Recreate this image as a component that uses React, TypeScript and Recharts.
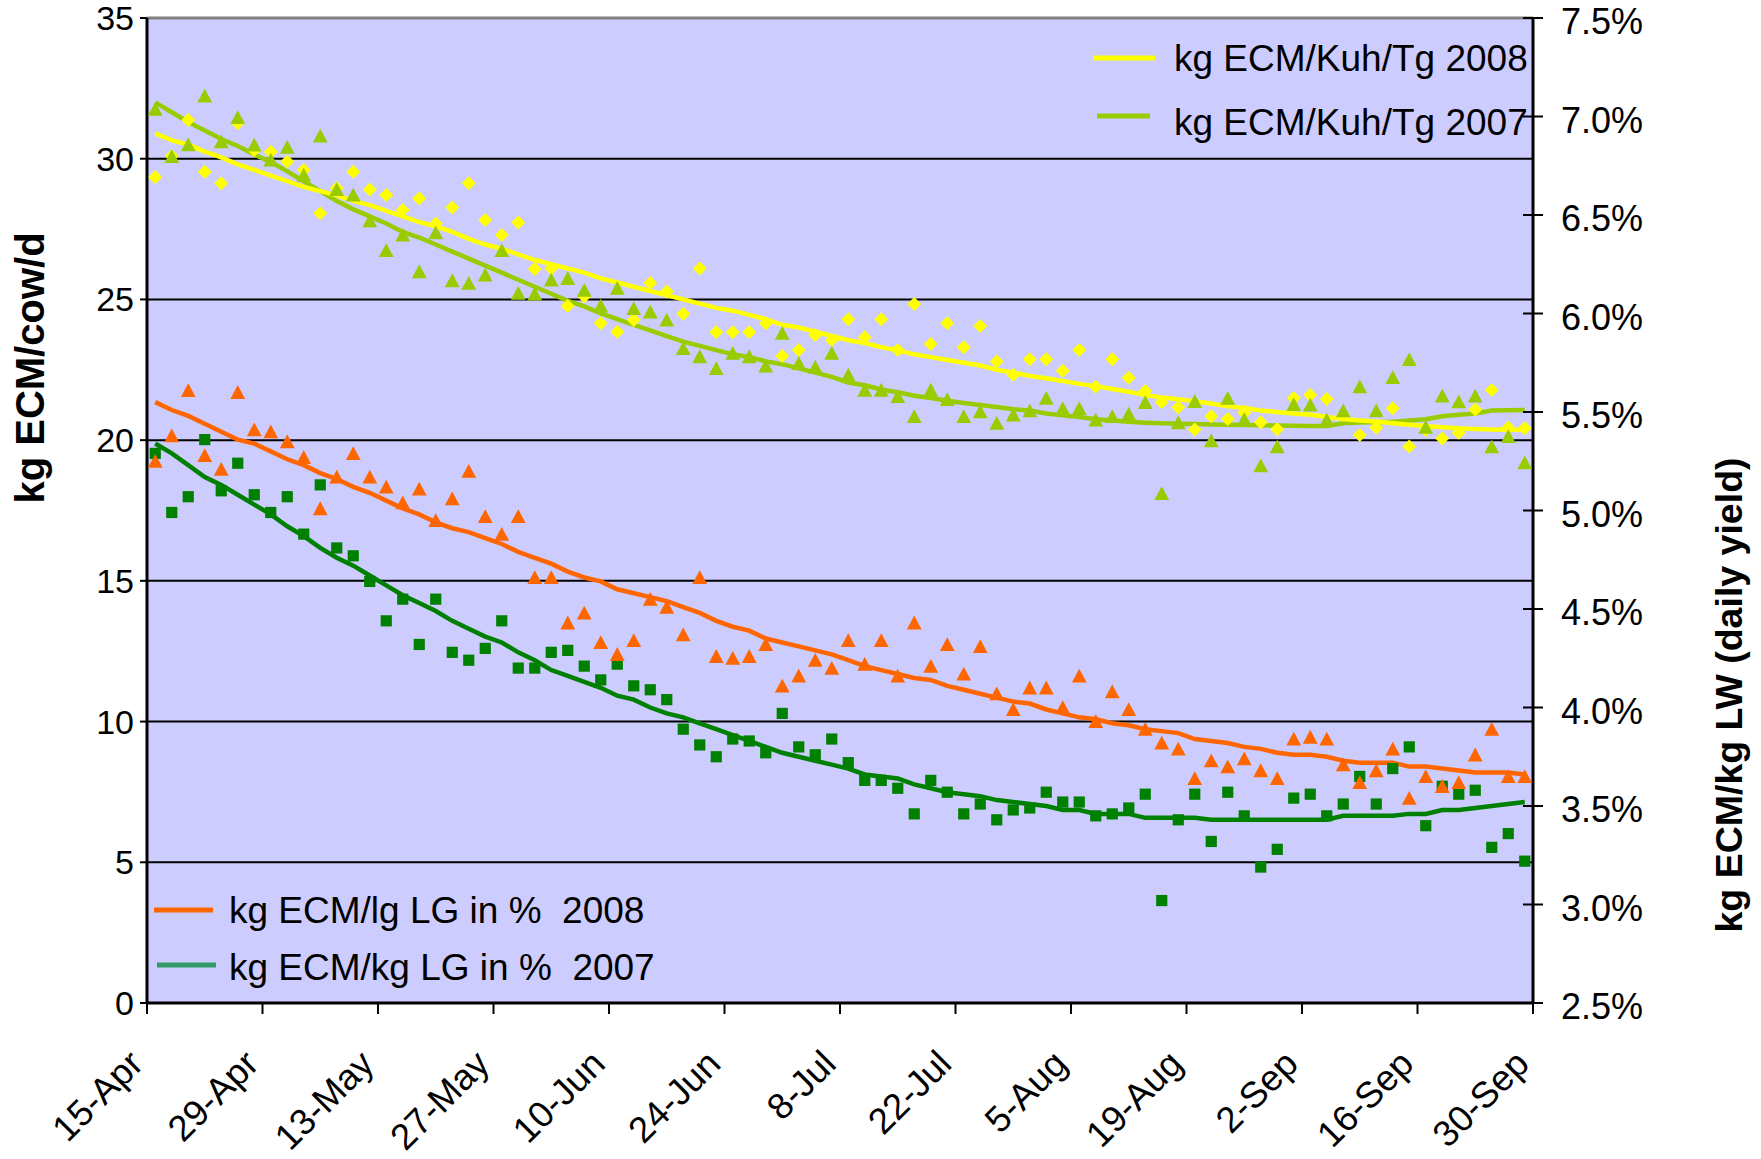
import React from 'react';
import { ComposedChart, Line, XAxis, YAxis, CartesianGrid, ReferenceLine, Customized, Label } from 'recharts';

const FONT = '"Liberation Sans", Arial, Helvetica, sans-serif';

// days after 15-Apr (every second day)
const days = [1,3,5,7,9,11,13,15,17,19,21,23,25,27,29,31,33,35,37,39,41,43,45,47,49,51,53,55,57,59,
  61,63,65,67,69,71,73,75,77,79,81,83,85,87,89,91,93,95,97,99,101,103,105,107,109,111,113,115,117,119,
  121,123,125,127,129,131,133,135,137,139,141,143,145,147,149,151,153,155,157,159,161,163,165,167];

const xTickDays = [0,14,28,42,56,70,84,98,112,126,140,154,168];
const xTickLabels = ['15-Apr','29-Apr','13-May','27-May','10-Jun','24-Jun','8-Jul','22-Jul','5-Aug','19-Aug','2-Sep','16-Sep','30-Sep'];
const leftTicks = [0,5,10,15,20,25,30,35];
const rightTicks = [2.5,3,3.5,4,4.5,5,5.5,6,6.5,7,7.5];
const gridValues = [5,10,15,20,25,30];

// kg ECM/cow/day 2008 (yellow diamonds)
const ecm2008 = [29.34,30.1,31.38,29.54,29.13,31.26,30.3,30.25,29.9,29.6,
  28.06,28.95,29.54,28.91,28.71,28.18,28.59,27.7,28.27,29.13,
  27.82,27.29,27.73,26.08,26.1,24.77,25.1,24.15,23.85,24.27,
  25.58,25.28,24.49,26.1,23.83,23.83,23.83,24.15,22.99,23.2,
  23.74,23.56,24.3,23.66,24.3,23.2,24.84,23.42,24.15,23.3,
  24.06,22.79,22.32,22.87,22.87,22.47,23.2,21.9,22.87,22.22,
  21.75,21.35,21.17,20.38,20.85,20.75,20.97,20.64,20.39,21.5,
  21.6,21.46,20.9,20.18,20.45,21.13,19.77,20.36,20.06,20.26,
  21.09,21.78,20.45,20.42];

// kg ECM/cow/day 2007 (yellow-green triangles)
const ecm2007 = [31.76,30.08,30.5,32.23,30.61,31.47,30.49,29.96,30.41,29.42,
  30.81,28.91,28.71,27.8,26.74,27.29,25.99,27.37,25.67,25.58,
  25.87,26.74,25.22,25.2,25.69,25.75,25.33,24.77,25.4,24.68,
  24.56,24.27,23.26,22.97,22.55,23.09,22.97,22.64,23.8,22.73,
  22.6,23.09,22.32,21.78,21.78,21.55,20.84,21.78,21.45,20.84,
  21.01,20.6,20.9,21.05,21.49,21.13,21.13,20.72,20.84,20.93,
  21.34,18.11,20.62,21.38,19.98,21.49,20.74,19.09,19.77,21.27,
  21.25,20.72,21.05,21.9,21.05,22.23,22.87,20.46,21.57,21.37,
  21.57,19.77,20.13,19.2];

// kg ECM / kg LW in % 2008 (orange triangles)
const pct2008 = [5.25,5.38,5.61,5.28,5.21,5.60,5.41,5.40,5.35,5.27,
  5.01,5.17,5.29,5.17,5.12,5.04,5.11,4.95,5.06,5.20,
  4.97,4.88,4.97,4.66,4.66,4.43,4.48,4.33,4.27,4.34,
  4.55,4.51,4.37,4.66,4.26,4.25,4.26,4.32,4.11,4.16,
  4.24,4.20,4.34,4.22,4.34,4.16,4.43,4.21,4.32,4.17,
  4.31,4.07,3.99,4.10,4.10,4.00,4.16,3.93,4.08,3.99,
  3.89,3.82,3.79,3.64,3.73,3.70,3.74,3.68,3.64,3.84,
  3.85,3.84,3.71,3.62,3.68,3.79,3.54,3.65,3.60,3.62,
  3.76,3.89,3.65,3.65];

// kg ECM / kg LW in % 2007 (dark green squares)
const pct2007 = [5.29,4.99,5.07,5.36,5.10,5.24,5.08,4.99,5.07,4.88,
  5.13,4.81,4.77,4.64,4.44,4.55,4.32,4.55,4.28,4.24,
  4.30,4.44,4.20,4.20,4.28,4.29,4.21,4.14,4.22,4.11,
  4.09,4.04,3.89,3.81,3.75,3.84,3.83,3.77,3.97,3.80,
  3.76,3.84,3.72,3.63,3.63,3.59,3.46,3.63,3.57,3.46,
  3.51,3.43,3.48,3.49,3.57,3.52,3.52,3.45,3.46,3.49,
  3.56,3.02,3.43,3.56,3.32,3.57,3.45,3.19,3.28,3.54,
  3.56,3.45,3.51,3.65,3.51,3.69,3.80,3.40,3.60,3.56,
  3.58,3.29,3.36,3.22];

// trend lines (moving averages)
const trend2008 = [30.9,30.65,30.5,30.25,30.05,29.8,29.6,29.4,29.2,29.0,
  28.85,28.7,28.5,28.35,28.15,27.95,27.75,27.6,27.4,27.15,
  26.95,26.8,26.6,26.4,26.25,26.1,25.95,25.75,25.6,25.45,
  25.3,25.15,25.0,24.85,24.7,24.6,24.45,24.3,24.1,24.0,
  23.85,23.7,23.55,23.45,23.3,23.2,23.05,22.95,22.85,22.75,
  22.65,22.5,22.4,22.28,22.2,22.1,22.0,21.92,21.82,21.72,
  21.6,21.52,21.45,21.38,21.3,21.2,21.15,21.05,21.0,20.95,
  20.9,20.82,20.75,20.7,20.66,20.6,20.55,20.5,20.46,20.42,
  20.4,20.38,20.37,20.36];

const trend2007 = [32.0,31.65,31.3,31.0,30.7,30.45,30.15,29.88,29.55,29.2,
  28.85,28.5,28.2,27.95,27.7,27.4,27.2,26.95,26.7,26.45,
  26.2,25.95,25.7,25.45,25.2,24.95,24.75,24.5,24.3,24.1,
  23.9,23.7,23.5,23.35,23.2,23.05,22.95,22.8,22.7,22.55,
  22.4,22.25,22.05,21.95,21.8,21.7,21.58,21.5,21.4,21.32,
  21.25,21.18,21.1,21.05,20.95,20.88,20.82,20.74,20.7,20.65,
  20.62,20.6,20.58,20.57,20.56,20.55,20.54,20.53,20.52,20.51,
  20.5,20.5,20.6,20.63,20.64,20.65,20.7,20.74,20.85,20.9,
  20.95,21.05,21.06,21.07];

const trendPct2008 = [5.55,5.51,5.48,5.44,5.40,5.36,5.34,5.30,5.26,5.23,
  5.19,5.16,5.12,5.09,5.05,5.01,4.98,4.94,4.91,4.89,
  4.86,4.83,4.79,4.76,4.73,4.69,4.66,4.64,4.60,4.58,
  4.56,4.54,4.51,4.48,4.44,4.41,4.39,4.35,4.33,4.31,
  4.29,4.27,4.24,4.21,4.19,4.17,4.15,4.14,4.11,4.09,
  4.07,4.05,4.03,4.02,3.99,3.97,3.95,3.94,3.92,3.91,
  3.89,3.88,3.87,3.84,3.83,3.82,3.80,3.79,3.77,3.76,
  3.76,3.75,3.73,3.72,3.72,3.72,3.70,3.70,3.69,3.68,
  3.67,3.67,3.67,3.66];

const trendPct2007 = [5.34,5.29,5.23,5.17,5.13,5.08,5.03,4.98,4.92,4.87,
  4.81,4.76,4.72,4.67,4.62,4.57,4.53,4.49,4.44,4.40,
  4.36,4.33,4.28,4.24,4.19,4.16,4.13,4.10,4.06,4.04,
  4.00,3.97,3.95,3.92,3.89,3.86,3.83,3.80,3.77,3.75,
  3.73,3.71,3.69,3.66,3.65,3.64,3.61,3.59,3.57,3.56,
  3.55,3.53,3.52,3.51,3.50,3.48,3.48,3.46,3.46,3.46,
  3.44,3.44,3.44,3.44,3.43,3.43,3.43,3.43,3.43,3.43,
  3.43,3.43,3.45,3.45,3.45,3.45,3.46,3.46,3.48,3.48,
  3.49,3.50,3.51,3.52];

const legendTop = [
  { name: 'kg ECM/Kuh/Tg 2008', color: '#FFFF00' },
  { name: 'kg ECM/Kuh/Tg 2007', color: '#99CC00' },
];
const legendBottom = [
  { name: 'kg ECM/lg LG in %  2008', color: '#FF6600' },
  { name: 'kg ECM/kg LG in %  2007', color: '#339966' },
];

const data = days.map((d, i) => ({
  day: d,
  y08: ecm2008[i],
  y07: ecm2007[i],
  p08: pct2008[i],
  p07: pct2007[i],
  t08: trend2008[i],
  t07: trend2007[i],
  tp08: trendPct2008[i],
  tp07: trendPct2007[i],
}));

const Diamond = (p: any) => {
  const { cx, cy } = p;
  if (cx == null || cy == null) return <g />;
  const r = 7;
  return <path d={`M${cx},${cy - r}L${cx + r},${cy}L${cx},${cy + r}L${cx - r},${cy}Z`} fill="#FFFF00" />;
};
const Triangle = (p: any) => {
  const { cx, cy, color } = p;
  if (cx == null || cy == null) return <g />;
  return <path d={`M${cx},${cy - 7.2}L${cx + 7.4},${cy + 6.6}L${cx - 7.4},${cy + 6.6}Z`} fill={color} />;
};
const Square = (p: any) => {
  const { cx, cy } = p;
  if (cx == null || cy == null) return <g />;
  return <rect x={cx - 5.6} y={cy - 5.6} width={11.2} height={11.2} fill="#008000" />;
};

const XTick = (props: any) => {
  const { x, y, payload } = props;
  const i = xTickDays.indexOf(payload.value);
  const ax = x - 2;
  const ay = y + 44;
  return (
    <text x={ax} y={ay} transform={`rotate(-45 ${ax} ${ay})`} textAnchor="end" fontSize={36.5} fontFamily={FONT} fill="#000">
      {xTickLabels[i]}
    </text>
  );
};

const RightTick = (props: any) => {
  const { x, y, payload } = props;
  return (
    <g>
      <line x1={x - 38} x2={x - 28} y1={y} y2={y} stroke="#000" strokeWidth={2} />
      <text x={x} y={y} dy="0.45em" textAnchor="start" fontSize={36} fontFamily={FONT} fill="#000">
        {Number(payload.value).toFixed(1) + '%'}
      </text>
    </g>
  );
};

const LeftTitle = (props: any) => {
  const vb = props.viewBox || { x: 47, y: 18 };
  const cx = vb.x - 17;
  const cy = vb.y + 350;
  return (
    <text x={cx} y={cy} transform={`rotate(-90 ${cx} ${cy})`} textAnchor="middle" dominantBaseline="central"
      fontSize={40} fontWeight="bold" fontFamily={FONT} fill="#000">kg ECM/cow/d</text>
  );
};
const RightTitle = (props: any) => {
  const vb = props.viewBox || { x: 1533, y: 18 };
  const cx = vb.x + 196;
  const cy = vb.y + 677;
  return (
    <text x={cx} y={cy} transform={`rotate(-90 ${cx} ${cy})`} textAnchor="middle" dominantBaseline="central"
      fontSize={37.5} fontWeight="bold" fontFamily={FONT} fill="#000">kg ECM/kg LW (daily yield)</text>
  );
};

const LegendLayer = () => (
  <g className="chart-legend">
    <line x1={1093} x2={1155} y1={58} y2={58} stroke={legendTop[0].color} strokeWidth={5} />
    <text x={1174} y={71} fontSize={37} fontFamily={FONT} fill="#000" style={{ whiteSpace: 'pre' }}>{legendTop[0].name}</text>
    <line x1={1097} x2={1150} y1={116} y2={116} stroke={legendTop[1].color} strokeWidth={5} />
    <text x={1174} y={135} fontSize={37} fontFamily={FONT} fill="#000" style={{ whiteSpace: 'pre' }}>{legendTop[1].name}</text>
    <line x1={154} x2={213} y1={910} y2={910} stroke={legendBottom[0].color} strokeWidth={5} />
    <text x={229} y={923} fontSize={37} fontFamily={FONT} fill="#000" style={{ whiteSpace: 'pre' }}>{legendBottom[0].name}</text>
    <line x1={157} x2={216} y1={965} y2={965} stroke={legendBottom[1].color} strokeWidth={5} />
    <text x={229} y={980} fontSize={37} fontFamily={FONT} fill="#000" style={{ whiteSpace: 'pre' }}>{legendBottom[1].name}</text>
  </g>
);

export default function App() {
  return (
    <div style={{ position: 'fixed', left: 0, top: 0, width: 1761, height: 1159, background: '#fff' }}>
      <ComposedChart width={1761} height={1159} data={data} margin={{ top: 18, right: 48, bottom: 16, left: 47 }}>
        <CartesianGrid horizontal vertical={false} horizontalValues={gridValues} stroke="#000" strokeWidth={2}
          fill="#CCCCFF" fillOpacity={1} />
        <XAxis dataKey="day" type="number" domain={[0, 168]} ticks={xTickDays} interval={0} height={140}
          tickSize={11} tickMargin={8} tick={<XTick />} axisLine={{ stroke: '#000', strokeWidth: 3 }}
          tickLine={{ stroke: '#000', strokeWidth: 2 }} allowDataOverflow />
        <YAxis domain={[0, 35]} ticks={leftTicks} interval={0} width={100} tickSize={7} tickMargin={6}
          axisLine={{ stroke: '#000', strokeWidth: 3 }} tickLine={{ stroke: '#000', strokeWidth: 2 }}
          tick={{ fill: '#000', fontSize: 34, fontFamily: FONT }}>
          <Label content={<LeftTitle />} />
        </YAxis>
        <YAxis yAxisId="right" orientation="right" domain={[2.5, 7.5]} ticks={rightTicks} interval={0} width={180}
          tickSize={10} tickMargin={18} axisLine={{ stroke: '#000', strokeWidth: 3 }}
          tickLine={{ stroke: '#000', strokeWidth: 2 }} tick={<RightTick />}>
          <Label content={<RightTitle />} />
        </YAxis>
        <ReferenceLine y={35} stroke="#808080" strokeWidth={3} />

        <Line dataKey="y08" stroke="none" isAnimationActive={false} activeDot={false} legendType="none"
          dot={(p: any) => <Diamond key={`d08-${p.index}`} cx={p.cx} cy={p.cy} />} />
        <Line dataKey="y07" stroke="none" isAnimationActive={false} activeDot={false} legendType="none"
          dot={(p: any) => <Triangle key={`t07-${p.index}`} cx={p.cx} cy={p.cy} color="#99CC00" />} />
        <Line yAxisId="right" dataKey="p07" stroke="none" isAnimationActive={false} activeDot={false} legendType="none"
          dot={(p: any) => <Square key={`s07-${p.index}`} cx={p.cx} cy={p.cy} />} />
        <Line yAxisId="right" dataKey="p08" stroke="none" isAnimationActive={false} activeDot={false} legendType="none"
          dot={(p: any) => <Triangle key={`o08-${p.index}`} cx={p.cx} cy={p.cy} color="#FF6600" />} />

        <Line yAxisId="right" dataKey="tp07" stroke="#008000" strokeWidth={4.5} dot={false} activeDot={false} isAnimationActive={false} />
        <Line yAxisId="right" dataKey="tp08" stroke="#FF6600" strokeWidth={4.5} dot={false} activeDot={false} isAnimationActive={false} />
        <Line dataKey="t07" stroke="#99CC00" strokeWidth={4.5} dot={false} activeDot={false} isAnimationActive={false} />
        <Line dataKey="t08" stroke="#FFFF00" strokeWidth={4.5} dot={false} activeDot={false} isAnimationActive={false} />

        <Customized component={LegendLayer} />
      </ComposedChart>
    </div>
  );
}
